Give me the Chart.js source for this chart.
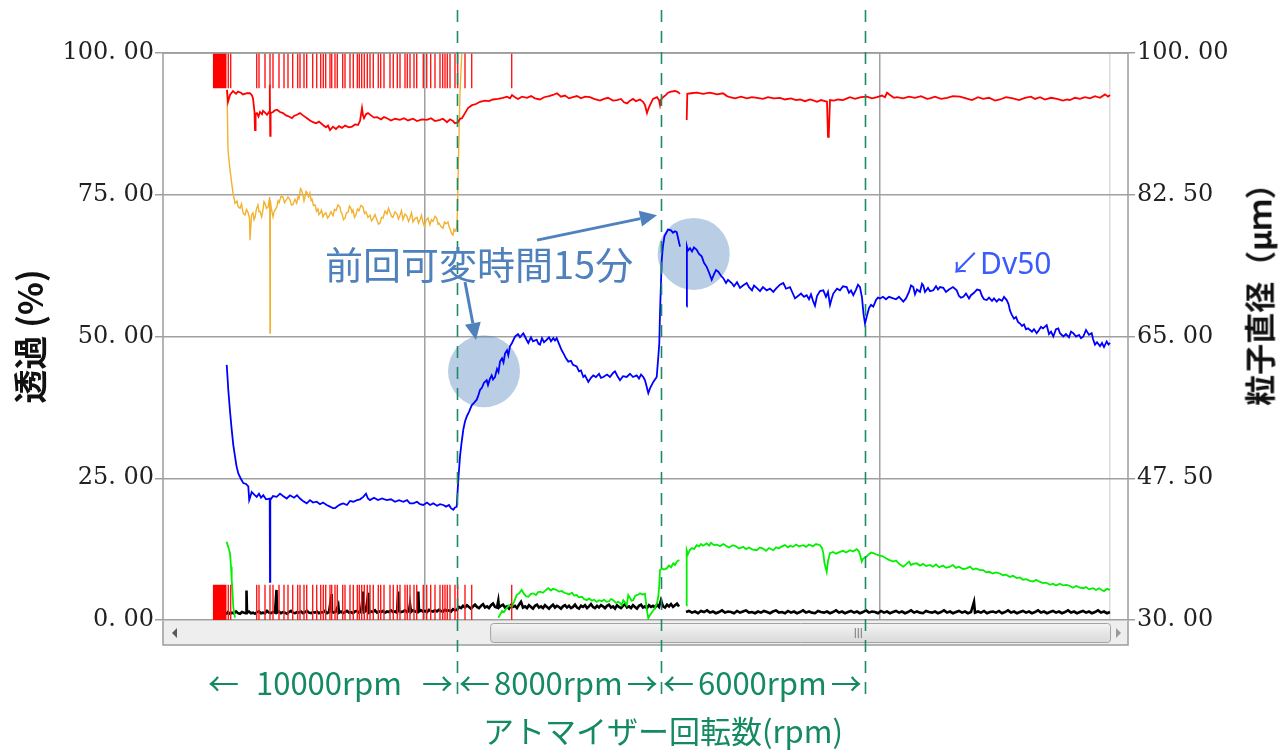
<!DOCTYPE html>
<html lang="ja">
<head>
<meta charset="UTF-8" />
<title>アトマイザー回転数と粒子直径</title>
<style>
  body { margin: 0; background: #fff; }
  #wrap { position: relative; width: 1279px; height: 751px; }
  .note { position: absolute; white-space: nowrap; line-height: 1; font-family: 'Noto Sans CJK JP', 'Noto Sans', sans-serif; }
  #lbl15 { left: 325px; top: 244px; font-size: 38px; color: #4f81bd; }
  #lblDv { left: 950px; top: 248px; font-size: 30px; color: #3b5bfd; font-family: 'Noto Sans', 'Noto Sans CJK JP', sans-serif; }
  .rpm { top: 666px; font-size: 31px; color: #138a60; }
  .rpm .t { margin: 0 4px; }
  #rpm1 { left: 208px; }
  #rpm1 .t { margin: 0 20px 0 17px; }
  #rpm2 { left: 459px; }
  #rpm3 { left: 663px; }
  #xTitle { left: 483px; top: 714px; font-size: 31px; color: #138a60; }
  #y2Title { left: 1258px; top: 287px; font-size: 31px; font-weight: bold; color: #111;
             transform: translate(-50%, -50%) rotate(-90deg); }
</style>
</head>
<body>
<div id="wrap">
  <canvas id="chart"></canvas>
  <div class="note" id="lbl15">前回可変時間15分</div>
  <div class="note" id="lblDv">↙Dv50</div>
  <div class="note rpm" id="rpm1">←<span class="t">10000rpm</span>→</div>
  <div class="note rpm" id="rpm2">←<span class="t">8000rpm</span>→</div>
  <div class="note rpm" id="rpm3">←<span class="t">6000rpm</span>→</div>
  <div class="note" id="xTitle">アトマイザー回転数(rpm)</div>
  <div class="note" id="y2Title">粒子直径（μｍ）</div>
</div>

<script src="https://cdn.jsdelivr.net/npm/chart.js"></script>
<script>
// x = sample index along the time axis
const leftTicks = [0, 25, 50, 75, 100];
const rightTicks = [30, 47.5, 65, 82.5, 100];
const timeGrid = [262, 717, 947];
const phaseChanges = [294, 498, 702];   // 10000 -> 8000 -> 6000 rpm

// 透過 red trace (%)
const transRed = [
  [64,93.5],[65,91.4],[67,92.6],[70,93.3],[73,92.8],[75,93.2],[78,93.0],[80,92.7],[84,92.9],[87,92.9],[89,92.5],[90,92.0],
  [91.5,89.6],[92,86.4],[92.6,89.3],[94,89.4],[95.5,88.8],[97,89.6],[99,89.2],[100,89.8],[102,89.5],[104,89.1],[106,89.6],
  [106.8,94.4],[107.2,85.4],[107.6,89.4],[110,89.6],[112,89.9],[114,90.0],[117,89.6],[120,89.4],[123,89.0],[126,88.8],
  [129,88.5],[131,88.9],[134,89.1],[137,89.4],[140,89.0],[144,88.5],[147,88.1],[150,87.8],[153,87.6],[156,87.9],[160,87.3],
  [163,86.9],[165,87.2],[167,86.4],[170,87.0],[173,86.6],[176,87.1],[179,86.8],[182,87.2],[186,86.9],[189,87.0],[192,87.4],
  [195,87.3],[197,88.0],[199,90.3],[200,89.0],[201,88.5],[203,89.2],[205,89.4],[208,89.0],[211,88.6],[214,88.7],[218,88.3],
  [221,88.7],[224,88.5],[228,88.1],[232,88.4],[237,88.2],[241,88.5],[245,88.1],[250,88.4],[254,88.0],[259,88.3],[264,88.2],
  [268,88.5],[272,88.0],[277,88.2],[280,88.4],[284,87.8],[287,88.3],[290,88.0],[292,87.6],[295,87.8],[297,88.4],[299,88.5],
  [302,89.4],[305,90.3],[309,90.8],[313,91.0],[317,91.4],[322,91.6],[326,91.5],[330,91.8],[335,91.9],[340,92.1],[344,92.3],
  [347,92.0],[349,92.6],[352,92.2],[355,91.9],[359,92.3],[364,92.1],[368,92.4],[372,92.0],[377,91.8],[381,92.2],[386,92.4],
  [390,92.6],[394,92.9],[398,92.3],[402,92.5],[406,92.0],[410,92.2],[414,92.4],[418,92.0],[422,92.3],[427,92.2],[431,91.9],
  [437,91.6],[441,91.9],[445,92.1],[450,91.6],[454,91.7],[458,91.9],[461,91.3],[464,91.1],[467,91.6],[470,91.9],[473,91.5],
  [477,91.8],[480,91.4],[482,90.8],[484,89.4],[485.5,90.2],[487,90.8],[490,91.9],[494,92.2],[496,91.7],[497,90.8],[498,91.8],
  [500,92.2],[503,92.6],[505,93.0],[508,93.2],[512,93.3],[515,93.1],[517,92.8],[520,null],
  [523.7,88.2],[524.3,92.8],[528,92.9],[534,93.0],[540,92.8],[547,93.0],[554,92.7],[560,92.9],[564,92.4],[567,92.2],
  [572,92.0],[578,92.3],[584,92.0],[589,92.2],[594,92.1],[600,91.9],[605,92.2],[611,92.0],[617,92.1],[622,91.8],[628,92.0],
  [633,91.7],[637,91.8],[642,91.5],[647,91.8],[651,91.6],[654,91.4],[658,91.7],[662,91.5],[664,91.4],[665,85.2],[665.8,85.6],
  [667,91.7],[671,91.6],[675,91.8],[680,91.7],[684,92.0],[687,92.2],[692,91.9],[698,92.2],[704,92.3],[709,92.0],[714,92.2],
  [719,92.5],[722,92.2],[724,93.0],[727,92.6],[731,92.1],[734,92.2],[740,92.0],[746,92.3],[752,92.1],[758,92.4],[764,91.9],
  [767,92.0],[772,92.3],[778,91.9],[784,92.1],[790,92.4],[797,92.3],[803,92.0],[809,91.7],[815,92.2],[820,91.9],[826,92.1],
  [832,91.6],[837,91.8],[843,92.2],[850,92.0],[856,91.7],[862,92.1],[868,92.3],[872,91.9],[877,92.2],[882,91.8],[888,92.1],
  [894,91.9],[900,91.6],[904,91.8],[907,91.7],[912,92.1],[917,91.9],[922,92.2],[927,92.0],[932,92.4],[937,92.1],[942,92.7],
  [945,92.3],[947,92.6]
];

// orange trace (%)
const transOrange = [
  [64,93.5],[65,82.9],[67,79.4],[70,75.3],[72,73.5],[74,73.9],[75,72.9],[77,72.6],[78.5,73.4],[80,71.8],[82,71.4],[83.5,72.4],
  [85,71.9],[86.5,70.8],[87,67.0],[88.5,71.4],[90,71.8],[91,70.6],[92,71.0],[93.5,72.5],[95,73.2],[96,72.0],[97,72.1],
  [98.7,71.1],[100,72.4],[101,73.8],[102,73.5],[103.5,72.6],[105,72.8],[106.7,74.6],[107,50.6],[107.3,74.0],[108.5,72.4],
  [110,71.1],[111,72.0],[112,72.3],[113.7,72.8],[115,73.9],[116,73.6],[118,74.7],[120,74.6],[121.5,73.6],[123,74.0],
  [125,74.6],[127,74.1],[128.5,73.2],[130,73.3],[132,74.2],[133.7,73.5],[135,74.6],[136,74.3],[137.5,76.1],[138.7,75.8],
  [140,74.9],[141,73.9],[142,74.6],[143,75.6],[144,75.4],[145.5,74.6],[147,75.3],[148,74.0],[149,74.2],[150.5,73.1],
  [152,73.2],[153.5,72.1],[155,72.5],[156,71.5],[157,71.7],[158.5,72.3],[160,71.1],[161.5,71.6],[163,71.8],[164.5,70.9],
  [166,71.2],[168,72.0],[170,71.3],[171.5,72.4],[173,72.2],[175,73.2],[177,72.8],[178,71.9],[179,71.7],[180.5,70.6],
  [182,70.9],[183.5,71.8],[185,71.9],[186.5,73.0],[188,72.6],[189,71.9],[190,72.3],[191.5,71.0],[193,71.5],[194.5,72.5],
  [196,72.2],[198,73.1],[200,72.8],[201.5,71.7],[203,72.0],[205,71.0],[207,71.4],[208.5,70.4],[210,70.8],[212,71.5],
  [214,70.5],[215.5,69.8],[217,70.0],[218.5,71.0],[220,70.9],[222,72.1],[224,71.6],[225.5,72.6],[227,71.9],[228.5,71.2],
  [230,71.0],[232,72.0],[234,71.6],[235.5,70.7],[237,71.4],[238.5,72.2],[240,70.6],[242,71.6],[244,71.2],[245.5,70.3],
  [247,70.9],[248.5,71.8],[250,70.2],[252,70.8],[254,71.0],[255.5,70.0],[257,70.6],[258.5,71.4],[260,70.1],[261.5,69.4],
  [263,70.5],[265,70.9],[267,69.7],[268.5,70.6],[270,70.3],[272,71.2],[273.7,70.9],[275,69.8],[276,70.0],[278,69.4],
  [280,69.1],[281.5,70.2],[283,69.9],[285,70.2],[286,69.4],[287,69.0],[288.5,68.2],[290,67.9],[291,68.9],[292,68.6],
  [293.7,69.1],[294.3,71.4],[295.3,79.9],[297,93.0],[298.7,99.6],[299,100]
];

// Dv50 (µm)
const dv50 = [
  [63.7,61.5],[64.5,60.0],[65.3,58.4],[67,55.8],[68.7,53.5],[70.3,51.6],[72,50.2],[73.5,49.0],[75.3,48.1],[78,47.4],[80.3,46.9],
  [83,46.8],[85.3,46.5],[86.2,44.8],[87,45.1],[88.7,45.8],[91,45.5],[93.7,45.2],[96,45.6],[98,45.1],[100.3,45.4],[103,44.9],
  [106.7,45.0],[107,34.7],[107.3,44.8],[110,45.3],[113.7,45.2],[117,45.6],[120,45.3],[123.7,45.0],[127,45.4],[131,45.1],
  [134,45.4],[137,45.0],[140,44.7],[143.7,44.4],[147,44.8],[150,44.5],[153.7,44.6],[157,44.3],[160,44.5],[163.7,44.2],
  [167,44.0],[170,43.8],[172,43.8],[175,44.1],[178,44.3],[180.3,44.4],[184,44.2],[187,44.7],[190.3,44.6],[194,44.8],[197,44.9],
  [200.3,45.2],[203,45.6],[205,45.0],[207,44.8],[211,45.1],[215,44.8],[219,45.0],[223.7,44.8],[228,44.9],[232,44.6],[236,44.8],
  [240.3,44.6],[244,44.8],[247,44.4],[250.3,44.4],[254,44.6],[257,44.3],[260.3,44.2],[264,44.5],[267,44.2],[270.3,44.4],
  [274,44.1],[277,44.3],[280.3,44.2],[283,44.0],[286,44.2],[288,43.8],[290.3,43.6],[292,43.9],[293.7,44.0],[295.3,47.3],
  [297,50.2],[298.5,51.8],[300.3,53.5],[302,54.5],[303.7,55.1],[306,55.7],[308.7,56.5],[311,56.8],[313.7,57.2],[315,57.6],
  [317,58.4],[319,58.7],[321,59.3],[323.7,59.6],[325,59.0],[327,59.8],[328.7,60.2],[330,59.7],[332,60.0],[334,61.0],
  [335.5,60.6],[337,61.9],[339,62.3],[340.5,61.8],[342,62.9],[344,63.3],[345.3,62.7],[347,63.8],[349,64.2],[352,65.0],
  [355,65.3],[357,64.9],[360.3,65.4],[362,65.0],[363.5,64.6],[365.3,64.2],[368,64.9],[370,64.4],[373.7,64.6],[375.5,64.1],
  [377,64.0],[379,64.8],[381,64.3],[383.7,64.6],[386,64.9],[388,64.4],[390.3,64.8],[392,64.5],[393.7,64.8],[396,64.1],
  [398.7,63.3],[401,62.8],[403,62.3],[405.3,61.9],[408,62.0],[410,61.5],[413.7,61.3],[416,60.7],[418,60.8],[420.3,60.0],
  [422,60.2],[425.3,59.4],[428,59.9],[430.3,60.2],[433,60.0],[436,60.4],[438,59.9],[440.3,60.0],[444,60.3],[447,60.0],
  [450,60.5],[452,60.7],[454.5,60.1],[457,59.6],[460,60.1],[463.7,60.0],[467,60.4],[470,60.0],[473.7,60.2],[476,59.8],
  [478,60.3],[480.3,60.0],[482,59.6],[483.7,58.8],[485.3,58.0],[487,58.6],[490.3,59.4],[492,59.7],[493.7,60.0],[495.3,62.5],
  [496.3,64.2],[497,67.9],[498.7,74.4],[500,76.2],[501.5,77.4],[503.7,77.9],[505,78.2],[508,78.1],[510,77.8],[512,78.0],
  [513.7,77.9],[515,77.2],[517,76.1],[520,null],
  [523.7,68.7],[523.9,76.1],[525,75.6],[527,75.9],[529,75.5],[531,76.0],[533.7,75.7],[536,75.2],[538.7,74.9],[541,74.1],
  [543.7,73.6],[546,72.9],[548.7,72.0],[551,72.7],[553,73.2],[555.3,73.0],[558,72.5],[560.3,72.2],[563,71.6],[565,72.0],
  [568.7,71.6],[571,71.2],[574,71.7],[577,71.0],[580,71.3],[583.7,71.6],[586,71.1],[589,70.7],[591,71.3],[593.7,71.0],
  [597,70.6],[600,71.1],[603.7,70.7],[607,70.9],[610.3,70.5],[613,70.9],[617,71.4],[620.3,71.6],[623,70.9],[627,71.1],
  [629.5,70.4],[632,69.7],[635,70.0],[638,70.3],[641,69.9],[643.7,70.1],[646,69.6],[648,70.2],[650.3,69.3],[652,68.8],
  [654,70.0],[657,70.6],[660.3,70.7],[663,69.9],[665,70.5],[667,68.9],[668.5,69.6],[670.3,70.3],[674,70.9],[677,70.7],
  [680,71.2],[683.7,71.1],[686,70.4],[688,70.7],[690.3,70.1],[693,70.8],[695,71.4],[697,71.1],[699,69.8],[700.5,67.8],
  [702,66.6],[704,67.6],[706,68.5],[708,68.9],[710.3,68.7],[713,69.5],[715,69.8],[717,69.7],[720,69.9],[723,69.6],
  [726,69.9],[730.3,69.7],[733,69.6],[736,69.9],[740.3,69.3],[743,69.7],[746,70.5],[748,71.3],[750.3,71.1],[752,70.2],
  [754,70.8],[757,70.5],[759,71.5],[760.3,71.3],[762,70.5],[765,71.0],[767,70.6],[770.3,70.7],[773,71.2],[775,70.8],
  [777,71.1],[780.3,71.0],[783,70.5],[786,70.8],[790,71.1],[793.7,70.7],[796,70.0],[798,69.8],[800.3,69.9],[803,70.3],
  [806,69.7],[808,70.1],[811,70.4],[814,70.8],[817,70.7],[819,70.0],[821,69.6],[823.7,69.5],[826,69.8],[829,69.4],
  [831,69.7],[833.7,69.3],[836,69.6],[839,69.4],[841,69.9],[843.7,69.5],[845.5,69.0],[847,68.2],[848.7,67.7],[851,67.2],
  [853,67.4],[855,66.8],[857,66.6],[859,66.3],[861,66.5],[863,65.9],[865,66.0],[867,65.8],[869,65.6],[871,65.9],[873.7,65.4],
  [876,65.8],[878,66.2],[880,66.0],[883.7,66.4],[886,65.3],[888,65.6],[890.3,65.0],[893,65.9],[895.3,66.0],[897,65.4],
  [900.3,65.0],[903,65.3],[906,64.9],[908,65.6],[910.3,65.4],[913,65.0],[916,65.2],[918,64.8],[920.3,65.0],[923,65.8],
  [926,65.2],[928.7,65.4],[930,64.7],[932,64.0],[934,64.3],[937,63.8],[939,64.2],[941,63.7],[943.7,64.4],[945.5,64.0],[947,64.2]
];

// green trace (%)
const transGreen = [
  [63.7,13.8],[65,13.0],[67,11.8],[68,9.4],[68.7,7.1],[69.5,4.9],[70.3,2.3],[72,0.4],[80,null],
  [335.3,0.4],[337,0.9],[339,1.6],[341,1.4],[343.7,2.1],[346,2.6],[348.7,2.3],[351,3.2],[353.7,4.4],[356,4.7],[358.7,5.3],
  [361,4.6],[363,4.2],[365.3,4.1],[368,4.6],[370.3,4.7],[373,4.4],[375,4.9],[377,5.0],[380,4.8],[383,5.3],[385.3,5.6],
  [388,5.2],[390,5.5],[393.7,5.3],[396,5.0],[399,5.1],[401,4.8],[403.7,4.7],[406,4.5],[409,4.8],[411,4.3],[413.7,4.4],
  [416,4.0],[419,4.1],[421,3.7],[423.7,3.5],[426,3.8],[429,3.4],[431,3.6],[433.7,3.2],[436,3.5],[439,3.3],[441,3.6],
  [443.7,3.2],[446,3.3],[448,3.7],[450.3,3.5],[453,3.0],[455.3,3.2],[457,3.0],[458.7,2.6],[460.3,3.5],[462,3.1],[463.7,2.6],
  [465.3,4.4],[467,3.9],[468.5,3.4],[470.3,3.5],[472,4.2],[473.7,4.4],[475.5,4.5],[477,4.7],[479.5,4.5],[482,4.6],[483.5,2.2],
  [485.3,0.3],[487,0.9],[489.5,1.5],[492,2.1],[494,3.0],[495.3,4.1],[496.3,6.3],[497,8.8],[498.7,9.1],[501,8.9],[503.7,9.1],
  [506,9.6],[508,9.3],[510.3,10.0],[512,9.7],[514,10.3],[516.3,10.6],[519,null],
  [523,2.6],[523.7,12.3],[525,11.6],[527,12.4],[529,12.7],[531,12.5],[533.7,13.2],[536,13.0],[538,13.4],[540,13.1],
  [543.7,13.5],[546,13.1],[548,13.6],[551,13.2],[554,13.3],[557,13.0],[560.3,13.4],[563,13.1],[566,12.8],[570,13.2],
  [573,13.0],[576,12.6],[580.3,12.9],[583,12.5],[586,12.8],[590,12.4],[593.7,12.3],[597,12.8],[600,12.6],[603,12.2],
  [606,12.7],[610.3,12.3],[613,12.8],[616,12.6],[618,12.9],[622,13.2],[625,12.8],[627,13.1],[630,12.9],[633,13.3],
  [636,13.0],[640.3,13.2],[643,12.9],[646,13.3],[650,13.0],[653,13.4],[657,13.2],[659,12.7],[660.3,11.8],[661.5,10.0],
  [663.7,8.5],[665,10.4],[667,11.8],[670,12.0],[673,11.7],[677,12.0],[680,12.2],[683,11.9],[687,12.3],[690,12.1],
  [693.7,12.5],[696,12.1],[697.5,11.2],[698.7,10.3],[700,10.8],[703.7,11.2],[706,11.6],[708,11.9],[710.3,11.8],[713,11.6],
  [716,11.4],[720.3,11.2],[723,10.9],[726,10.6],[730.3,10.3],[733,10.5],[736,9.9],[740.3,9.4],[743,9.8],[746,10.3],
  [748,9.7],[750,9.9],[753.7,10.0],[757,9.6],[760,9.9],[763,9.5],[767,9.7],[770,9.4],[773,9.8],[776,9.3],[780,9.6],
  [783,9.2],[787,9.4],[790,9.7],[793,9.2],[796,9.4],[800,9.0],[803.7,9.1],[807,9.4],[810,8.9],[813,9.1],[817,8.8],
  [820.3,8.8],[823,8.4],[826,8.5],[830,8.2],[833,8.4],[837,8.2],[840,7.9],[843,8.0],[847,7.6],[850,7.8],[853.7,7.4],
  [857,7.5],[860,7.1],[863,7.2],[867,6.9],[870.3,6.8],[873,7.1],[876,6.8],[880,6.5],[883,6.6],[887,6.2],[890,6.4],
  [893,6.1],[897,6.4],[900,6.1],[903.7,6.2],[907,6.0],[910,5.7],[913,6.0],[917,5.7],[920.3,5.6],[923,5.8],[926,5.4],
  [930.3,5.6],[933,5.3],[936,5.6],[938.7,5.3],[941,5.1],[944,5.5],[947,5.3]
];

// black trace (%)
const transBlack = [
  [63,1.0],[65,1.4],[67,1.1],[69,1.3],[71,1.2],[73,1.5],[75,1.2],[77,1.1],[79,1.4],[81,1.3],[83,1.2],[83.5,5.2],[84,1.3],
  [86,1.5],[88,1.2],[90,1.3],[92,1.1],[94,1.4],[96,1.5],[98,1.2],[100,1.3],[102,1.2],[104,1.6],[106,1.3],[108,1.2],[110,1.4],
  [112,1.3],[113.5,5.3],[114,1.3],[116,1.5],[118,1.2],[120,1.4],[122,1.3],[124,1.1],[126,1.4],[128,1.6],[130,1.3],[132,1.2],
  [134,1.4],[136,1.3],[138,1.5],[140,1.2],[142,1.4],[144,1.6],[146,1.3],[148,1.2],[150,1.4],[152,1.3],[154,1.5],[156,1.2],
  [158,1.4],[160,1.3],[162,1.6],[164,1.2],[166,1.4],[168.7,4.6],[169,1.4],[171,1.3],[173,1.5],[175.3,2.6],[176,1.3],[178,1.5],
  [180,1.2],[182,1.4],[184,1.6],[186,1.3],[188,1.4],[190,1.2],[192,1.5],[194,1.6],[196,1.3],[198,1.4],[200.3,5.0],[201,1.4],
  [203,1.6],[205.3,4.8],[206,1.3],[208,1.5],[210,1.4],[212,1.7],[214,1.3],[216,1.5],[218,1.4],[220,1.6],[222,1.3],[224,1.5],
  [226,1.4],[228,1.7],[230,1.4],[232,1.5],[234,1.3],[235.3,5.0],[236,1.6],[238,1.4],[240,1.5],[242,1.7],[244,1.4],[246,1.6],
  [247,2.8],[248,1.4],[250,1.7],[252,1.5],[254,1.4],[255.3,5.0],[256,1.5],[258,1.7],[260,1.5],[262,1.6],[264,1.4],[266,1.8],
  [268,1.6],[270,1.5],[272,1.7],[274,1.5],[276,1.8],[278,1.6],[280,1.5],[282,1.8],[284,1.6],[286,1.7],[288,1.5],[290,1.9],
  [292,1.7],[294,1.8],
  [296,2.3],[298,2.1],[300,2.5],[302,2.2],[304,2.6],[306,2.3],[308,2.0],[310,2.4],[312,2.7],[314,2.3],[316,2.1],[318,2.5],
  [320,2.8],[322,2.2],[324,2.4],[326,2.1],[328,2.6],[330,2.9],[332,2.3],[334,2.2],[335.3,3.4],[336,2.2],[338,2.5],[340,2.7],
  [342,2.2],[344,2.4],[346,2.0],[348,2.6],[350,2.3],[352,2.5],[354,2.1],[356,2.7],[358,3.2],[360,2.2],[362,2.4],[364,2.1],
  [366,2.6],[368,2.3],[370,2.0],[372,2.5],[374,2.7],[376,2.2],[378,2.4],[380,2.1],[382,2.6],[384,2.3],[386,2.0],[388,2.4],
  [390,2.7],[392,2.2],[394,2.5],[396,2.3],[398,2.0],[400,2.4],[402,2.6],[404,2.2],[406,2.5],[408,2.1],[410,2.3],[412,2.7],
  [414,2.2],[416,2.0],[418,2.5],[420,2.3],[422,2.6],[424,2.1],[426,2.4],[428,2.8],[430,2.3],[432,2.1],[434,2.5],[436,2.2],
  [438,2.6],[440,2.4],[442,2.1],[444,2.5],[446,2.7],[448,2.2],[450,2.4],[452,2.0],[454,2.6],[456,2.3],[458,2.1],[460,2.5],
  [462,2.8],[464,2.2],[466,2.4],[468,2.1],[470,2.6],[472,2.3],[474,2.0],[476,2.5],[478,2.7],[480,2.2],[482,2.4],[484,2.1],
  [486,2.6],[488,2.3],[490,2.5],[492,2.2],[494,2.7],[496,2.3],[498,3.5],[500,2.4],[502,2.2],[504,2.7],[506,2.4],[508,2.8],
  [510,2.3],[512,2.6],[514,2.9],[516,2.4],[520,null],
  [523,1.4],[526,1.6],[529,1.3],[532,1.5],[535,1.2],[538,1.6],[541,1.4],[544,1.7],[547,1.3],[550,1.5],[553,1.2],[556,1.4],
  [559,1.7],[562,1.3],[565,1.5],[568,1.4],[571,1.2],[574,1.6],[577,1.3],[580,1.5],[583,1.7],[586,1.3],[589,1.4],[592,1.2],
  [595,1.5],[598,1.3],[601,1.6],[604,1.4],[607,1.2],[610,1.5],[613,1.7],[616,1.3],[619,1.4],[622,1.2],[625,1.6],[628,1.3],
  [631,1.5],[634,1.2],[637,1.4],[640,1.7],[643,1.3],[646,1.5],[649,1.3],[652,1.2],[655,1.6],[658,1.4],[661,1.3],[664,1.5],
  [667,1.2],[670,1.4],[673,1.7],[676,1.3],[679,1.5],[682,1.2],[685,1.4],[688,1.6],[691,1.3],[694,1.5],[697,1.2],[700,1.4],
  [703,1.7],[706,1.3],[709,1.5],[712,1.4],[715,1.2],[718,1.6],[721,1.3],[724,1.5],[727,1.2],[730,1.4],[733,1.6],[736,1.3],
  [739,1.5],[742,1.2],[745,1.4],[748,1.7],[751,1.3],[754,1.5],[757,1.3],[760,1.2],[763,1.6],[766,1.4],[769,1.3],[772,1.5],
  [775,1.2],[778,1.4],[781,1.7],[784,1.3],[787,1.5],[790,1.2],[793,1.4],[796,1.6],[799,1.3],[802,1.5],[805,1.2],[808,1.4],
  [811,3.2],[812,1.3],[815,1.5],[818,1.3],[821,1.6],[824,1.2],[827,1.4],[830,1.5],[833,1.3],[836,1.6],[839,1.2],[842,1.4],
  [845,1.7],[848,1.3],[851,1.5],[854,1.2],[857,1.4],[860,1.6],[863,1.3],[866,1.5],[869,1.2],[872,1.4],[875,1.7],[878,1.3],
  [881,1.5],[884,1.2],[887,1.4],[890,1.6],[893,1.3],[896,1.5],[899,1.2],[902,1.4],[905,1.7],[908,1.3],[911,1.5],[914,1.2],
  [917,1.4],[920,1.6],[923,1.3],[926,1.5],[929,1.2],[932,1.4],[935,1.7],[938,1.3],[941,1.5],[944,1.2],[947,1.4]
];

// event markers (sample index) and their bands on the left axis
const eventTimes = [65.3,67.7,93.7,96,102,107,110,116,121,125,129.7,134.7,137,141,143.7,149.7,153.7,157.7,160.3,162.7,167,
  168.7,172,174.3,179.7,182,187,190.3,194.3,196.3,198.7,201.3,204.3,207,210.3,215.3,217.7,221,227,230.3,234.3,237,242,244.3,
  247,251,253.7,260.3,263.7,267.7,272,277,279.7,282,284.3,287,292,294.7,302,308.7,348.7];
const eventBlock = [49.7, 63.7];
const bandTop = [93.8, 100];
const bandBottom = [0, 6.2];

// highlighted regions (x, Dv50)
const highlights = [[321, 60.7], [530.7, 75.2]];
// callout arrows in (x, 透過%) : from, to
const callouts = [[302, 59.6, 313, 49.4], [374, 67.0, 494, 71.4]];

const pts = arr => arr.map(p => ({ x: p[0], y: p[1] }));

function markerPoints(band) {
  const out = [];
  eventTimes.forEach(t => {
    out.push({ x: t, y: band[0] }, { x: t, y: band[1] }, { x: t, y: null });
  });
  return out;
}

const line = (data, color, width, axis, order) => ({
  type: 'line', data, borderColor: color, borderWidth: width, pointRadius: 0,
  tension: 0, spanGaps: false, yAxisID: axis, order, fill: false
});

const deco = {
  id: 'deco',
  afterDraw(chart) {
    const { ctx, chartArea: a, scales } = chart;
    const x = scales.x, y = scales.y;
    const w = a.right - a.left;
    ctx.save();

    // scrollbar
    const sbTop = a.bottom + 1, sbH = 24;
    ctx.fillStyle = '#eeeeee';
    ctx.fillRect(a.left, sbTop, w, sbH);
    ctx.fillStyle = '#5a5a5a';
    ctx.beginPath();
    ctx.moveTo(a.left + 9, sbTop + sbH / 2);
    ctx.lineTo(a.left + 14, sbTop + sbH / 2 - 5);
    ctx.lineTo(a.left + 14, sbTop + sbH / 2 + 5);
    ctx.fill();
    ctx.fillStyle = '#9a9a9a';
    ctx.beginPath();
    ctx.moveTo(a.right - 7, sbTop + sbH / 2);
    ctx.lineTo(a.right - 12, sbTop + sbH / 2 - 5);
    ctx.lineTo(a.right - 12, sbTop + sbH / 2 + 5);
    ctx.fill();
    const t0 = a.left + w * 0.339, t1 = a.right - 18;
    const g = ctx.createLinearGradient(0, sbTop, 0, sbTop + sbH);
    g.addColorStop(0, '#f7f7f7');
    g.addColorStop(1, '#d6d6d6');
    ctx.fillStyle = g;
    ctx.strokeStyle = '#a3a3a3';
    ctx.lineWidth = 1;
    ctx.beginPath();
    ctx.roundRect(t0 + 0.5, sbTop + 2.5, t1 - t0, sbH - 5, 3);
    ctx.fill();
    ctx.stroke();
    const gx = a.left + w * 0.72;
    ctx.strokeStyle = '#7a7a7a';
    for (let i = -1; i <= 1; i++) {
      ctx.beginPath();
      ctx.moveTo(gx + i * 3 + 0.5, sbTop + 7);
      ctx.lineTo(gx + i * 3 + 0.5, sbTop + sbH - 7);
      ctx.stroke();
    }

    // frame
    ctx.strokeStyle = '#9c9c9c';
    ctx.lineWidth = 1.5;
    ctx.strokeRect(a.left, a.top, w, sbTop + sbH - a.top);
    ctx.beginPath();
    ctx.moveTo(a.left, a.bottom + 0.5);
    ctx.lineTo(a.right, a.bottom + 0.5);
    ctx.strokeStyle = '#c8c8c8';
    ctx.lineWidth = 1;
    ctx.stroke();

    // rpm change lines
    ctx.strokeStyle = '#1b8c64';
    ctx.lineWidth = 1.6;
    ctx.setLineDash([12, 9]);
    phaseChanges.forEach(t => {
      const px = Math.round(x.getPixelForValue(t)) + 0.5;
      ctx.beginPath();
      ctx.moveTo(px, 10);
      ctx.lineTo(px, 702);
      ctx.stroke();
    });
    ctx.setLineDash([]);

    // callout arrows
    ctx.strokeStyle = '#4f81bd';
    ctx.fillStyle = '#4f81bd';
    ctx.lineWidth = 3;
    callouts.forEach(c => {
      const x0 = x.getPixelForValue(c[0]), y0 = y.getPixelForValue(c[1]);
      const x1 = x.getPixelForValue(c[2]), y1 = y.getPixelForValue(c[3]);
      const ang = Math.atan2(y1 - y0, x1 - x0), L = 17, H = 8;
      const cx = Math.cos(ang), sy = Math.sin(ang);
      ctx.beginPath();
      ctx.moveTo(x0, y0);
      ctx.lineTo(x1 - L * cx, y1 - L * sy);
      ctx.stroke();
      ctx.beginPath();
      ctx.moveTo(x1, y1);
      ctx.lineTo(x1 - L * cx + H * sy, y1 - L * sy - H * cx);
      ctx.lineTo(x1 - L * cx - H * sy, y1 - L * sy + H * cx);
      ctx.closePath();
      ctx.fill();
    });
    ctx.restore();
  }
};

const tickFont = { family: "'DejaVu Serif', 'Liberation Serif', serif", size: 24 };
const fmt = v => Number(v).toFixed(2).replace('.', '. ');

new Chart(document.getElementById('chart'), {
  type: 'line',
  data: {
    datasets: [
      { type: 'line', data: [{ x: eventBlock[0], y: bandTop[1] }, { x: eventBlock[1], y: bandTop[1] }],
        borderWidth: 0, pointRadius: 0, backgroundColor: '#ff0000', fill: { value: bandTop[0] }, yAxisID: 'y', order: 1 },
      { type: 'line', data: [{ x: eventBlock[0], y: bandBottom[1] }, { x: eventBlock[1], y: bandBottom[1] }],
        borderWidth: 0, pointRadius: 0, backgroundColor: '#ff0000', fill: { value: bandBottom[0] }, yAxisID: 'y', order: 1 },
      line(markerPoints(bandTop), '#ff1a1a', 1.4, 'y', 1),
      line(markerPoints(bandBottom), '#ff1a1a', 1.4, 'y', 1),
      line(pts(transRed), '#ff0000', 1.8, 'y', 2),
      line(pts(dv50), '#0000ff', 1.8, 'y2', 3),
      line(pts(transGreen), '#00f000', 1.8, 'y', 4),
      line(pts(transOrange), '#f2b230', 1.4, 'y', 5),
      line(pts(transBlack), '#000000', 2.6, 'y', 6),
      { type: 'bubble', data: highlights.map(h => ({ x: h[0], y: h[1], r: 36 })), yAxisID: 'y2',
        backgroundColor: 'rgba(79,129,189,0.4)', borderWidth: 0, hoverRadius: 0, order: 10 }
    ]
  },
  options: {
    responsive: true,
    maintainAspectRatio: false,
    animation: false,
    events: [],
    layout: { padding: { top: 53, left: 0, right: 0, bottom: 0 } },
    plugins: { legend: { display: false }, tooltip: { enabled: false } },
    scales: {
      x: {
        type: 'linear', min: 0, max: 965,
        ticks: { display: false },
        border: { display: false },
        grid: { drawTicks: false, lineWidth: 1.5,
                color: c => c.index === 2 ? '#dcdcdc' : '#a0a0a0' },
        afterBuildTicks: s => { s.ticks = timeGrid.map(v => ({ value: v })); },
        afterFit: s => { s.height = 131; }
      },
      y: {
        position: 'left', min: 0, max: 100,
        border: { display: false },
        grid: { color: '#a0a0a0', lineWidth: 1.5, tickLength: 8 },
        ticks: { font: tickFont, color: '#222', padding: 1, callback: fmt },
        afterBuildTicks: s => { s.ticks = leftTicks.map(v => ({ value: v })); },
        title: { display: true, text: '透過 (%)', color: '#111',
                 font: { family: "'Noto Sans CJK JP', sans-serif", size: 34, weight: 'bold' },
                 padding: { top: 10, bottom: 0 } },
        afterFit: s => { s.width = 163; }
      },
      y2: {
        position: 'right', min: 30, max: 100,
        border: { display: false },
        grid: { drawOnChartArea: false, color: '#a0a0a0', lineWidth: 1.5, tickLength: 7 },
        ticks: { font: tickFont, color: '#222', padding: 2, callback: fmt },
        afterBuildTicks: s => { s.ticks = rightTicks.map(v => ({ value: v })); },
        afterFit: s => { s.width = 151; }
      }
    }
  },
  plugins: [deco]
});
</script>
</body>
</html>
